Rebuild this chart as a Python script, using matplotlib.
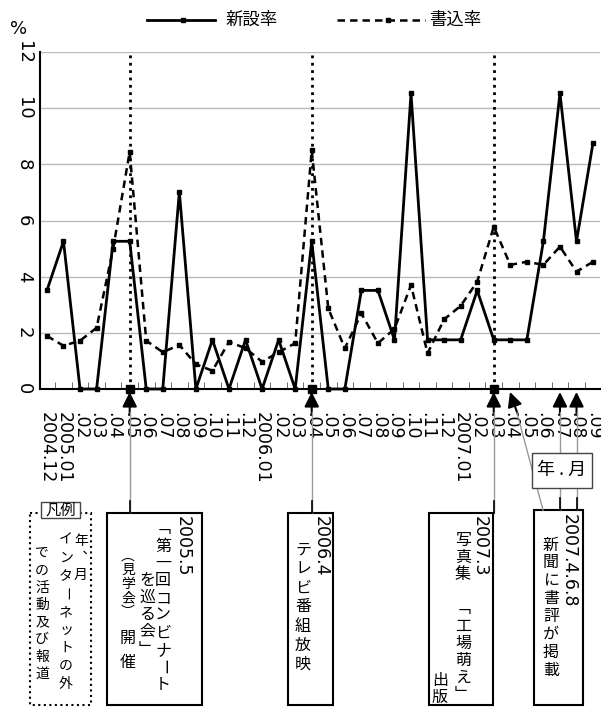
import matplotlib.pyplot as plt
import matplotlib.transforms as mtransforms
from matplotlib.patches import Rectangle, FancyArrowPatch
from matplotlib.lines import Line2D

plt.rcParams['font.family'] = ['Noto Sans CJK JP', 'DejaVu Sans']

W, H = 601, 707

# --- data ---
months = ["2004.12", "2005.01", ".02", ".03", ".04", ".05", ".06", ".07", ".08", ".09",
          ".10", ".11", ".12", "2006.01", ".02", ".03", ".04", ".05", ".06", ".07",
          ".08", ".09", ".10", ".11", ".12", "2007.01", ".02", ".03", ".04", ".05",
          ".06", ".07", ".08", ".09"]
new_rate = [3.51, 5.26, 0, 0, 5.26, 5.26, 0, 0, 7.02, 0, 1.75, 0, 1.75, 0, 1.75, 0,
            5.26, 0, 0, 3.51, 3.51, 1.75, 10.53, 1.75, 1.75, 1.75, 3.51, 1.75, 1.75, 1.75,
            5.26, 10.53, 5.26, 8.77]
write_rate = [1.89, 1.54, 1.72, 2.18, 5.0, 8.45, 1.72, 1.31, 1.57, 0.88, 0.65, 1.68, 1.45,
              0.97, 1.31, 1.63, 8.5, 2.87, 1.45, 2.69, 1.63, 2.14, 3.70, 1.27, 2.48, 2.96,
              3.82, 5.78, 4.42, 4.53, 4.42, 5.07, 4.18, 4.53]
yticks = [0, 2, 4, 6, 8, 10, 12]
event_idx = [5, 16, 27]     # 2005.05, 2006.04, 2007.03
news_idx = [28, 31, 32]     # newspaper review arrows

x = list(range(len(months)))

fig = plt.figure(figsize=(W / 100, H / 100), dpi=100)
ax = fig.add_axes([40 / W, 1 - 389 / H, 560 / W, 337 / H])

# pixel coords measured from top-left of the figure
pxT = mtransforms.Affine2D().scale(1 / W, -1 / H).translate(0, 1) + fig.transFigure
mixed = mtransforms.blended_transform_factory(ax.transData, pxT)

ax.plot(x, new_rate, color="k", lw=2, marker="s", ms=3, clip_on=False, zorder=4)
ax.plot(x, write_rate, color="k", lw=1.8, ls=(0, (3, 2)), marker="s", ms=3,
        clip_on=False, zorder=4)
ax.vlines(event_idx, 0, 12, colors="k", linestyles=":", lw=2, zorder=3)
ax.plot(event_idx, [0] * len(event_idx), "s", color="k", ms=6, clip_on=False, zorder=5)

ax.set_xlim(-0.42, 33.42)
ax.set_ylim(0, 12)
ax.set_yticks(yticks)
ax.set_yticklabels([str(v) for v in yticks], rotation=-90, fontsize=13,
                   family="DejaVu Sans", va="center")
ax.set_xticks(x)
ax.set_xticklabels(months, rotation=-90, fontsize=12.5, family="DejaVu Sans",
                   ha="center", va="top")
ax.set_xticks([i + 0.5 for i in range(len(months) - 1)], minor=True)
ax.tick_params(axis="x", which="major", length=0, pad=16.5)
ax.tick_params(axis="x", which="minor", direction="in", length=5, color="#555555")
ax.tick_params(axis="y", length=0, pad=5)
ax.yaxis.grid(True, color="#bbbbbb", lw=1)
ax.set_axisbelow(True)
for s in ("top", "right"):
    ax.spines[s].set_visible(False)
for s in ("left", "bottom"):
    ax.spines[s].set_linewidth(1.5)

fig.text(19, 29, "%", transform=pxT, ha="center", va="center", fontsize=13,
         family="DejaVu Sans")

# --- legend ---
fig.add_artist(Line2D([147, 215], [20, 20], transform=pxT, color="k", lw=2))
fig.add_artist(Line2D([183], [20], transform=pxT, color="k", marker="s", ms=3))
fig.text(225, 20, "新設率", transform=pxT, ha="left", va="center", fontsize=12.5)
fig.add_artist(Line2D([337, 425], [20, 20], transform=pxT, color="k", lw=1.8,
                      ls=(0, (3, 2))))
fig.add_artist(Line2D([388], [20], transform=pxT, color="k", marker="s", ms=3))
fig.text(429, 20, "書込率", transform=pxT, ha="left", va="center", fontsize=12.5)

# --- arrows and connectors ---
GRAY = "#999999"
box_top = {5: 513, 16: 513, 27: 513, 31: 510, 32: 510}
for i in event_idx + news_idx[1:]:
    fig.add_artist(Line2D([i, i], [412, box_top[i]], transform=mixed, color=GRAY, lw=1))
    fig.add_artist(Line2D([i, i], [box_top[i] - 12, box_top[i]], transform=mixed,
                          color="k", lw=1.2))
    fig.add_artist(FancyArrowPatch((i, 415), (i, 392), transform=mixed,
                                   arrowstyle="-|>", mutation_scale=22, color="k",
                                   lw=1.5, shrinkA=0, shrinkB=0))
fig.add_artist(Line2D([517, 543], [413, 510], transform=pxT, color=GRAY, lw=1))
fig.add_artist(FancyArrowPatch((518, 415), (510, 392), transform=pxT,
                               arrowstyle="-|>", mutation_scale=22, color="k",
                               lw=1.5, shrinkA=0, shrinkB=0))

# --- boxes ---
def box(x0, y0, w, h, **kw):
    fig.add_artist(Rectangle((x0, y0), w, h, transform=pxT, **kw))

box(30, 513, 61, 192, fill=False, ec="k", lw=1.5, ls=":")
box(41, 502, 39, 16, fc="white", ec="#444444", lw=1)
fig.text(60.5, 510, "凡例", transform=pxT, ha="center", va="center", fontsize=11)
box(107, 513, 95, 192, fc="white", ec="k", lw=1.5)
box(288, 513, 45, 192, fc="white", ec="k", lw=1.5)
box(429, 513, 64, 192, fc="white", ec="k", lw=1.5)
box(534, 510, 49, 195, fc="white", ec="k", lw=1.5)
box(532, 453, 60, 35, fc="white", ec="#444444", lw=1, zorder=5)
fig.text(562, 470, "年 . 月", transform=pxT, ha="center", va="center", fontsize=13,
         zorder=6)

# vertical-writing forms for brackets / long vowel mark
VERT = {"「": "﹁", "」": "﹂", "（": "︵", "）": "︶", "、": "︑"}


def vcol(xc, y, text, step, size=11.5):
    """Vertical (tategaki) column; y is the centre of the first character."""
    for ch in text:
        if ch != "　":
            rot = -90 if ch == "ー" else 0
            fig.text(xc, y, VERT.get(ch, ch), transform=pxT, ha="center", va="center",
                     fontsize=size, rotation=rot)
        y += step


def vnum(xc, y, text, size=12.5):
    fig.text(xc, y, text, transform=pxT, ha="center", va="top", fontsize=size,
             rotation=-90, family="DejaVu Sans")


# legend box
vcol(81, 541, "年、月", 17, size=10)
vcol(66, 540, "インターネットの外", 18, size=10)
vcol(42, 553, "での活動及び報道", 17.3, size=10)
# 2005.5
vnum(183, 516, "2005.5")
vcol(163, 529, "「第一回コンビナート", 17.3)
vcol(147, 580, "を巡る会」", 17.3)
vcol(128, 556, "（", 1, size=10)
vcol(128, 570, "見学会", 14, size=10)
vcol(128, 612, "）", 1, size=10)
vcol(128, 638, "開催", 24)
# 2006.4
vnum(321, 516, "2006.4")
vcol(303, 550, "テレビ番組放映", 19)
# 2007.3
vnum(480, 516, "2007.3")
vcol(463, 540, "写真集　「工場萌え」", 17.2)
vcol(440, 680, "出版", 17)
# 2007.4.6.8
vnum(569, 514, "2007.4.6.8")
vcol(551, 545, "新聞に書評が掲載", 17.9)

fig.savefig("out.png", dpi=100)
